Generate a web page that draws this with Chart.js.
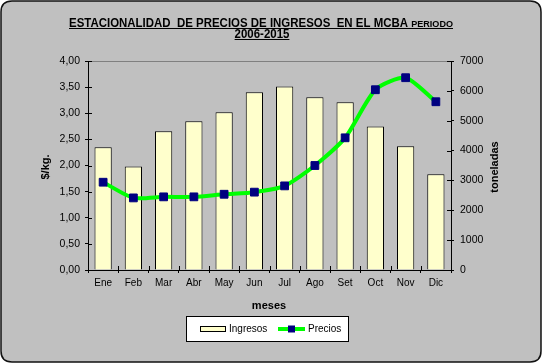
<!DOCTYPE html>
<html>
<head>
<meta charset="utf-8">
<script src="https://cdn.jsdelivr.net/npm/chart.js@4/dist/chart.umd.min.js"></script>
<style>
html,body{margin:0;padding:0;background:#fff;}
canvas{display:block;}
</style>
</head>
<body>
<canvas id="c" width="542" height="363"></canvas>
<script>
const meses = ['Ene','Feb','Mar','Abr','May','Jun','Jul','Ago','Set','Oct','Nov','Dic'];
const precios = [1.68, 1.38, 1.40, 1.40, 1.45, 1.49, 1.61, 2.00, 2.53, 3.45, 3.68, 3.22];
const ingresos = [4110, 3470, 4645, 4980, 5280, 5950, 6150, 5785, 5615, 4810, 4145, 3205];
const tituloPrincipal = 'ESTACIONALIDAD  DE PRECIOS DE INGRESOS  EN EL MCBA ';
const tituloPeriodo = 'PERIODO';
const tituloAnios = '2006-2015';
const tituloEjeIzq = '$/kg.';
const tituloEjeDer = 'toneladas';
const tituloEjeX = 'meses';

const FONT = '"Liberation Sans", Arial, sans-serif';
const BAR_COLOR = '#FFFFCC';
const LINE_COLOR = '#00FF00';
const POINT_COLOR = '#000080';

const bgPlugin = {
  id: 'bg',
  beforeDraw(chart) {
    const ctx = chart.ctx;
    ctx.save();
    ctx.fillStyle = '#fff';
    ctx.fillRect(0, 0, chart.width, chart.height);
    const x = 1, y = 1, w = chart.width - 2, h = chart.height - 2, r = 11;
    ctx.beginPath();
    ctx.moveTo(x + r, y);
    ctx.lineTo(x + w - r, y);
    ctx.quadraticCurveTo(x + w, y, x + w, y + r);
    ctx.lineTo(x + w, y + h - r);
    ctx.quadraticCurveTo(x + w, y + h, x + w - r, y + h);
    ctx.lineTo(x + r, y + h);
    ctx.quadraticCurveTo(x, y + h, x, y + h - r);
    ctx.lineTo(x, y + r);
    ctx.quadraticCurveTo(x, y, x + r, y);
    ctx.closePath();
    ctx.fillStyle = '#C0C0C0';
    ctx.fill();
    ctx.lineWidth = 1.5;
    ctx.strokeStyle = '#111';
    ctx.stroke();
    const a = chart.chartArea;
    ctx.beginPath();
    ctx.moveTo(a.left, a.top + 0.5);
    ctx.lineTo(a.right, a.top + 0.5);
    ctx.strokeStyle = '#808080';
    ctx.lineWidth = 1;
    ctx.stroke();
    ctx.restore();
  }
};

const extrasPlugin = {
  id: 'extras',
  afterDraw(chart) {
    const ctx = chart.ctx;
    const a = chart.chartArea;
    ctx.save();
    ctx.strokeStyle = '#000';
    ctx.lineWidth = 1;
    const sy = chart.scales.y, sy2 = chart.scales.y2;
    ctx.beginPath();
    sy.ticks.forEach((t, i) => {
      const p = Math.round(sy.getPixelForTick(i)) + 0.5;
      ctx.moveTo(a.left, p); ctx.lineTo(a.left + 4, p);
    });
    sy2.ticks.forEach((t, i) => {
      const p = Math.round(sy2.getPixelForTick(i)) + 0.5;
      ctx.moveTo(a.right, p); ctx.lineTo(a.right - 4, p);
    });
    for (let i = 0; i <= meses.length; i++) {
      const p = Math.round(a.left + (a.right - a.left) * i / meses.length) + 0.5;
      ctx.moveTo(p, a.bottom); ctx.lineTo(p, a.bottom - 4);
    }
    ctx.stroke();

    // Title
    ctx.fillStyle = '#000';
    ctx.textBaseline = 'alphabetic';
    ctx.textAlign = 'left';
    const f1 = 'bold 12px ' + FONT, f2 = 'bold 9.5px ' + FONT;
    ctx.font = f1; const w1 = ctx.measureText(tituloPrincipal).width;
    ctx.font = f2; const w2 = ctx.measureText(tituloPeriodo).width;
    const targetW = 384, left = 69;
    const s = targetW / (w1 + w2);
    ctx.save();
    ctx.translate(left, 27);
    ctx.scale(s, 1);
    ctx.font = f1; ctx.fillText(tituloPrincipal, 0, 0);
    ctx.font = f2; ctx.fillText(tituloPeriodo, w1, 0);
    ctx.restore();
    ctx.fillRect(left, 28, targetW, 1);
    ctx.font = f1;
    const w3 = ctx.measureText(tituloAnios).width * s;
    const cx2 = 262;
    ctx.save();
    ctx.translate(cx2 - w3 / 2, 38);
    ctx.scale(s, 1);
    ctx.fillText(tituloAnios, 0, 0);
    ctx.restore();
    ctx.fillRect(cx2 - w3 / 2, 39, w3, 1);

    // Axis titles
    ctx.font = 'bold 11px ' + FONT;
    ctx.textAlign = 'center';
    ctx.textBaseline = 'middle';
    ctx.save();
    ctx.translate(46, 167); ctx.rotate(-Math.PI / 2);
    ctx.fillText(tituloEjeIzq, 0, 0);
    ctx.restore();
    ctx.save();
    ctx.translate(495, 167); ctx.rotate(-Math.PI / 2);
    ctx.fillText(tituloEjeDer, 0, 0);
    ctx.restore();
    ctx.fillText(tituloEjeX, 269, 306);

    // Legend
    const lx = 186, ly = 316, lw = 163, lh = 26;
    ctx.fillStyle = '#fff';
    ctx.fillRect(lx, ly, lw, lh);
    ctx.strokeStyle = '#000';
    ctx.lineWidth = 1;
    ctx.strokeRect(lx + 0.5, ly + 0.5, lw - 1, lh - 1);
    const ds = chart.data.datasets;
    const barDs = ds.find(d => d.type === 'bar');
    const lineDs = ds.find(d => d.type === 'line');
    const my = 329;
    ctx.fillStyle = barDs.backgroundColor;
    ctx.fillRect(200, my - 2.5, 25, 5);
    ctx.strokeRect(200.5, my - 2.5, 25, 5);
    ctx.fillStyle = '#000';
    ctx.font = '10px ' + FONT;
    ctx.textAlign = 'left';
    ctx.fillText(barDs.label, 229, my);
    ctx.strokeStyle = lineDs.borderColor;
    ctx.lineWidth = 4;
    ctx.beginPath(); ctx.moveTo(278, my); ctx.lineTo(305, my); ctx.stroke();
    ctx.fillStyle = lineDs.pointBackgroundColor;
    ctx.fillRect(288, my - 3.5, 7, 7);
    ctx.fillStyle = '#000';
    ctx.fillText(lineDs.label, 308, my);
    ctx.restore();
  }
};

new Chart(document.getElementById('c'), {
  data: {
    labels: meses,
    datasets: [
      {
        type: 'line', label: 'Precios', data: precios, yAxisID: 'y',
        borderColor: LINE_COLOR, borderWidth: 4, tension: 0.22, fill: false,
        pointStyle: 'rect', pointRadius: 5.5, pointBackgroundColor: POINT_COLOR,
        pointBorderColor: POINT_COLOR, pointBorderWidth: 1, order: 0
      },
      {
        type: 'bar', label: 'Ingresos', data: ingresos, yAxisID: 'y2',
        backgroundColor: BAR_COLOR, borderColor: '#000', borderWidth: 1,
        categoryPercentage: 1, barPercentage: 0.57, order: 1
      }
    ]
  },
  options: {
    responsive: false,
    animation: false,
    devicePixelRatio: 1,
    layout: { padding: { top: 61, left: 0, right: 0, bottom: 0 } },
    plugins: { legend: { display: false }, title: { display: false }, tooltip: { enabled: false } },
    scales: {
      x: {
        offset: true,
        grid: { offset: true, drawOnChartArea: false, tickLength: 3, color: '#000' },
        border: { color: '#000', width: 1 },
        ticks: { font: { family: FONT, size: 10 }, color: '#000', padding: 4, maxRotation: 0, autoSkip: false },
        afterFit(s) { s.height = 93; }
      },
      y: {
        position: 'left', min: 0, max: 4,
        grid: { drawOnChartArea: false, tickLength: 3, color: '#000' },
        border: { color: '#000', width: 1 },
        ticks: { stepSize: 0.5, font: { family: FONT, size: 10.5 }, color: '#000', padding: 5,
          callback: v => Number(v).toFixed(2).replace('.', ',') },
        afterFit(s) { s.width = 88; }
      },
      y2: {
        position: 'right', min: 0, max: 7000,
        grid: { drawOnChartArea: false, tickLength: 3, color: '#000' },
        border: { color: '#000', width: 1 },
        ticks: { stepSize: 1000, font: { family: FONT, size: 10.5 }, color: '#000', padding: 6,
          callback: v => String(Math.round(v)) },
        afterFit(s) { s.width = 91; }
      }
    }
  },
  plugins: [bgPlugin, extrasPlugin]
});
</script>
</body>
</html>
